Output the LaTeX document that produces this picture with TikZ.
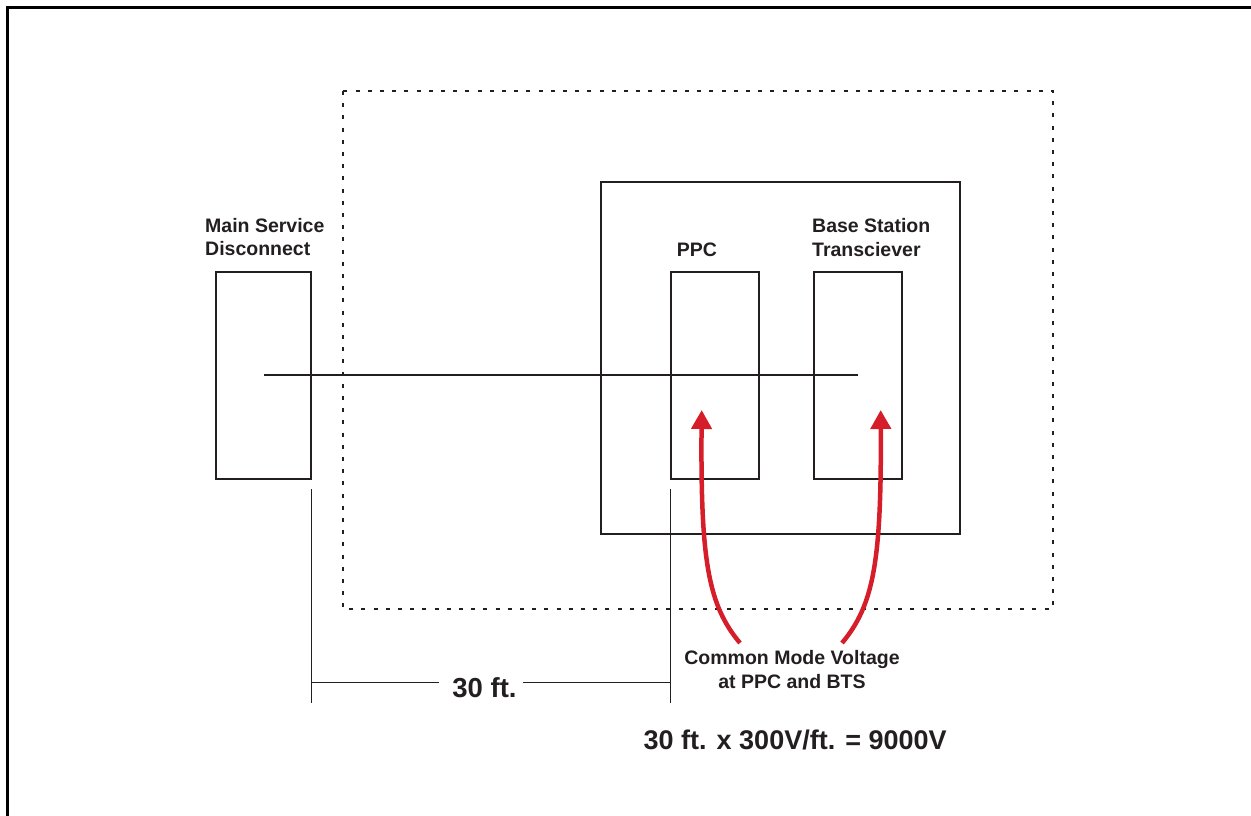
\documentclass[tikz,border=0pt]{standalone}
\usepackage{fontspec}
\setmainfont{Liberation Sans}
\usetikzlibrary{arrows.meta}
\definecolor{ink}{RGB}{35,31,32}
\definecolor{arrowred}{RGB}{214,30,42}
\begin{document}
\begin{tikzpicture}[x=1pt,y=-1pt,
  box/.style={draw=ink,line width=2pt},
  unit/.style={box,inner sep=0pt,outer sep=0pt,anchor=north west,minimum height=207pt},
  frame/.style={draw=black,line width=3pt},
  dotbox/.style={draw=ink,line width=2pt,dash pattern=on 4pt off 8.2pt},
  thin/.style={draw=ink,line width=1pt},
  lbl/.style={font=\bfseries\fontsize{19.5}{23}\selectfont,text=ink,inner sep=0pt},
  biglbl/.style={font=\bfseries\fontsize{27.5}{32}\selectfont,text=ink,inner sep=0pt},
  formulalbl/.style={font=\bfseries\fontsize{27}{32}\selectfont,text=ink,inner sep=0pt},
  redarrow/.style={draw=arrowred,line width=4.5pt,-{Triangle[length=19pt,width=20pt]}}]
\useasboundingbox (0,0) rectangle (1251,816);
% frame (top and left)
\draw[frame] (7.5,820) -- (7.5,7.5) -- (1255,7.5);
% dotted enclosure
\draw[dotbox] (342.5,91) rectangle (1053,609);
% big rectangle
\draw[box] (600.5,182) rectangle (960,534);
% boxes
\node[unit,minimum width=95pt] (msd) at (216,272) {};
\node[unit,minimum width=88pt] (ppc) at (670.5,272) {};
\node[unit,minimum width=88pt] (bts) at (814,272) {};
% labels
\node[lbl,anchor=base west] (msdl1) at (205,232.7) {Main Service};
\node[lbl,anchor=base west] (msdl2) at (205,255.7) {Disconnect};
\node[lbl,anchor=base] (ppcl) at (697,256) {PPC};
\node[lbl,anchor=base west] (btsl1) at (812,232.7) {Base Station};
\node[lbl,anchor=base west] (btsl2) at (812,256) {Transciever};
% conductor
\coordinate (c1) at (264,375);
\coordinate (c2) at (858,375);
\draw[box] (c1) -- (c2);
% dimension lines
\coordinate (d1t) at (311.5,489);
\coordinate (d1b) at (311.5,703);
\coordinate (d2t) at (670.5,489);
\coordinate (d2b) at (670.5,703);
\coordinate (d1m) at (311.5,682.5);
\coordinate (d2m) at (670.5,682.5);
\draw[thin] (d1t) -- (d1b);
\draw[thin] (d2t) -- (d2b);
\node[biglbl,anchor=base] (dim) at (484.5,697) {30 ft.};
\coordinate (g1) at (439,682.5);
\coordinate (g2) at (523,682.5);
\draw[thin] (d1m) -- (g1);
\draw[thin] (g2) -- (d2m);
% common mode label
\node[lbl,anchor=base] (cm1) at (792,664.3) {Common Mode Voltage};
\node[lbl,anchor=base] (cm2) at (792,688.3) {at PPC and BTS};
% red arrows
\coordinate (a1s) at (740,643);
\coordinate (a1e) at (701.7,410);
\coordinate (a2s) at (842,643);
\coordinate (a2e) at (880.7,410);
\draw[redarrow] (a1s) .. controls (708,605) and (700.5,560) .. (a1e);
\draw[redarrow] (a2s) .. controls (874,605) and (881.5,560) .. (a2e);
% formula
\node[formulalbl,anchor=base west] (formula) at (643.5,749.3) {30 ft. x 300V/ft. = 9000V};
\end{tikzpicture}
\end{document}
